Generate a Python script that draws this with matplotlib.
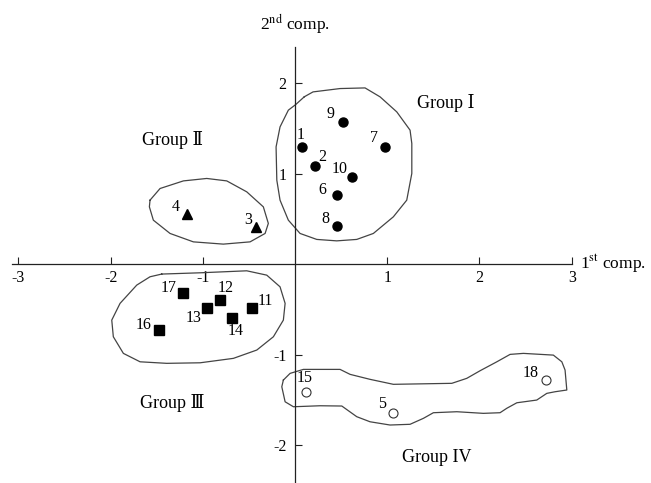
import numpy as np
import matplotlib
matplotlib.use("Agg")
import matplotlib.pyplot as plt

# =====================================================
# DATA
# =====================================================

ids = ["1", "2", "3", "4", "5", "6", "7", "8", "9",
       "10", "11", "12", "13", "14", "15", "16", "17", "18"]

comp1 = [0.08, 0.22, -0.42, -1.17, 1.06, 0.45, 0.98, 0.45, 0.52,
         0.62, -0.47, -0.81, -0.95, -0.68, 0.12, -1.48, -1.21, 2.72]
comp2 = [1.29, 1.09, 0.41, 0.55, -1.65, 0.76, 1.30, 0.42, 1.57,
         0.96, -0.49, -0.40, -0.49, -0.60, -1.41, -0.73, -0.32, -1.28]

# group of each sample
group = [1, 1, 2, 2, 4, 1, 1, 1, 1, 1, 3, 3, 3, 3, 4, 3, 3, 4]

group_names = ["Group \u2160", "Group \u2161", "Group \u2162", "Group IV"]

# hand drawn outlines round each group (x, y)
outline_1 = [(0.10, 1.85), (0.195, 1.904), (0.488, 1.941), (0.759, 1.948), (0.922, 1.849),
             (1.103, 1.683), (1.247, 1.481), (1.266, 1.334), (1.266, 1.002), (1.211, 0.707),
             (1.066, 0.523), (0.849, 0.339), (0.669, 0.273), (0.452, 0.257), (0.235, 0.273),
             (0.054, 0.339), (-0.073, 0.486), (-0.163, 0.707), (-0.198, 0.928), (-0.206, 1.296),
             (-0.163, 1.517), (-0.073, 1.702), (0.008, 1.765)]

outline_2 = [(-1.573, 0.707), (-1.464, 0.836), (-1.211, 0.920), (-0.958, 0.947), (-0.741, 0.920),
             (-0.524, 0.799), (-0.344, 0.633), (-0.290, 0.450), (-0.325, 0.339), (-0.488, 0.246),
             (-0.778, 0.221), (-1.103, 0.246), (-1.356, 0.339), (-1.537, 0.486), (-1.580, 0.633)]

outline_3 = [(-1.446, -0.110), (-1.030, -0.096), (-0.524, -0.074), (-0.307, -0.122),
             (-0.163, -0.251), (-0.108, -0.434), (-0.127, -0.619), (-0.235, -0.803),
             (-0.415, -0.950), (-0.669, -1.042), (-1.030, -1.091), (-1.392, -1.097),
             (-1.681, -1.080), (-1.862, -0.987), (-1.971, -0.803), (-1.988, -0.619),
             (-1.898, -0.434), (-1.717, -0.232), (-1.573, -0.140)]

outline_4 = [(-0.127, -1.282), (-0.054, -1.208), (0.090, -1.164), (0.488, -1.164), (0.597, -1.219),
             (0.813, -1.274), (1.066, -1.329), (1.700, -1.318), (1.862, -1.263), (2.006, -1.179),
             (2.188, -1.080), (2.332, -0.998), (2.476, -0.987), (2.801, -1.006), (2.893, -1.080),
             (2.928, -1.171), (2.947, -1.392), (2.820, -1.411), (2.730, -1.429), (2.621, -1.503),
             (2.405, -1.533), (2.296, -1.594), (2.223, -1.643), (2.042, -1.650), (1.754, -1.632),
             (1.500, -1.643), (1.392, -1.705), (1.247, -1.771), (1.030, -1.779), (0.813, -1.743),
             (0.669, -1.687), (0.507, -1.569), (0.271, -1.566), (-0.018, -1.577), (-0.108, -1.522),
             (-0.144, -1.356)]

xticks = [-3, -2, -1, 1, 2, 3]
yticks = [-2, -1, 1, 2]

# =====================================================
# STYLE
# =====================================================

plt.rcParams['font.family'] = ['Liberation Serif', 'DejaVu Serif', 'Noto Sans CJK JP']
plt.rcParams['mathtext.fontset'] = 'stix'
plt.rcParams['axes.unicode_minus'] = False

# label offsets in points (dx, dy) for each sample number
label_offset = {
    "1": (-1, 9), "2": (5, 6), "3": (-6, 5), "4": (-8, 5), "5": (-8, 7),
    "6": (-10, 4), "7": (-8, 6), "8": (-8, 5), "9": (-9, 6), "10": (-9, 6),
    "11": (10, 5), "12": (4, 9), "13": (-10, -7), "14": (2, -9), "15": (-1, 10),
    "16": (-11, 4), "17": (-11, 4), "18": (-11, 5),
}

markers = {
    1: dict(marker='o', color='black', ms=6.5),
    2: dict(marker='^', color='black', ms=6.5),
    3: dict(marker='s', color='black', ms=6.5),
    4: dict(marker='o', mfc='white', mec='#333333', mew=0.8, ms=6.5),
}

# =====================================================
# PLOT
# =====================================================

fig = plt.figure(figsize=(6.51, 4.83), dpi=100)
ax = fig.add_axes([0, 0, 1, 1])

ax.set_xlim(-3.20, 3.86)
ax.set_ylim(-2.42, 2.92)

for spine in ['top', 'right']:
    ax.spines[spine].set_visible(False)

ax.spines['bottom'].set_position(('data', 0))
ax.spines['left'].set_position(('data', 0))
ax.spines['bottom'].set_bounds(-3.07, 3.0)
ax.spines['left'].set_bounds(-2.45, 2.40)
for spine in ['bottom', 'left']:
    ax.spines[spine].set_linewidth(0.9)
    ax.spines[spine].set_color('#222222')

ax.set_xticks(xticks)
ax.set_yticks(yticks)
ax.set_xticklabels([str(t) for t in xticks])
ax.set_yticklabels([str(t) for t in yticks])
ax.tick_params(axis='x', direction='in', length=5, width=0.8, pad=4,
               labelsize=11.5, color='#222222')
ax.tick_params(axis='y', direction='in', length=5, width=0.8, pad=6,
               labelsize=11.5, color='#222222')

# outlines
for outline in [outline_1, outline_2, outline_3, outline_4]:
    pts = np.array(outline + [outline[0]])
    ax.plot(pts[:, 0], pts[:, 1], color='#444444', lw=0.9)

# points and numbers
for name, x, y, g in zip(ids, comp1, comp2, group):
    ax.plot(x, y, linestyle='none', **markers[g])
    dx, dy = label_offset[name]
    ax.annotate(name, (x, y), xytext=(dx, dy), textcoords='offset points',
                ha='center', va='center', fontsize=11.5)

# group names
ax.text(1.63, 1.78, group_names[0], ha='center', va='center', fontsize=13)
ax.text(-1.33, 1.37, group_names[1], ha='center', va='center', fontsize=13)
ax.text(-1.33, -1.54, group_names[2], ha='center', va='center', fontsize=13)
ax.text(1.54, -2.14, group_names[3], ha='center', va='center', fontsize=13)

# axis titles
ax.text(3.09, 0.0, r'1$^{\mathrm{st}}$ comp.', ha='left', va='center', fontsize=12.5)
ax.text(0.0, 2.65, r'2$^{\mathrm{nd}}$ comp.', ha='center', va='center', fontsize=12.5)

fig.savefig("out.png", dpi=100)
